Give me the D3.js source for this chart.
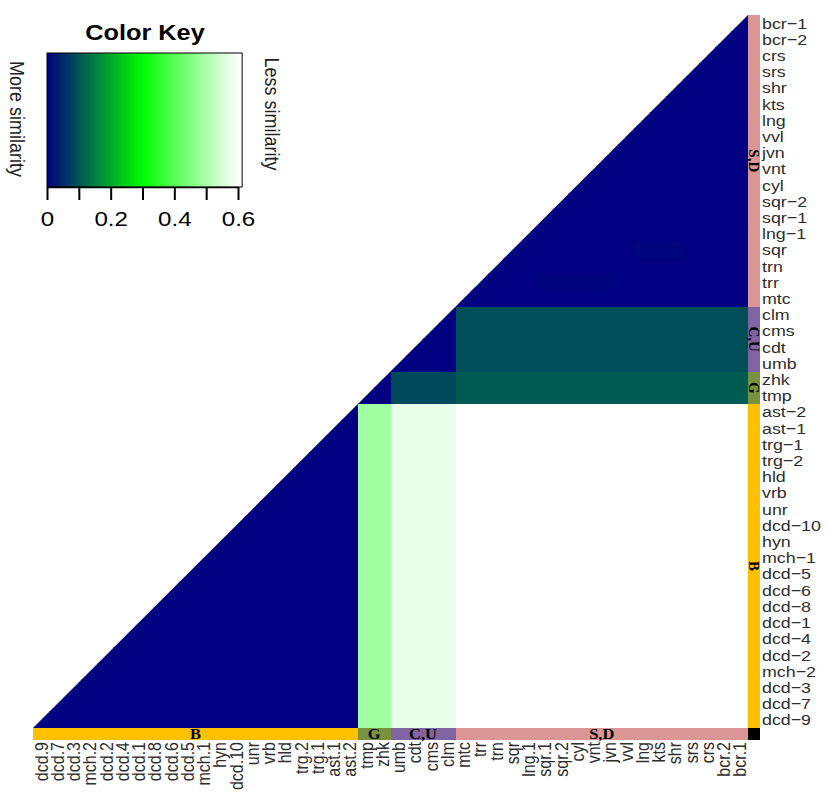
<!DOCTYPE html>
<html>
<head>
<meta charset="utf-8">
<script src="https://cdn.jsdelivr.net/npm/d3@7/dist/d3.min.js"></script>
<style>
  body { margin: 0; background: #fff; }
  svg { display: block; }
</style>
</head>
<body>
<div id="chart"></div>
<script>
// row labels, top to bottom
const rowLabels = ["bcr-1", "bcr-2", "crs", "srs", "shr", "kts", "lng", "vvl", "jvn", "vnt",
    "cyl", "sqr-2", "sqr-1", "lng-1", "sqr", "trn", "trr", "mtc",
    "clm", "cms", "cdt", "umb",
    "zhk", "tmp",
    "ast-2", "ast-1", "trg-1", "trg-2", "hld", "vrb", "unr", "dcd-10", "hyn", "mch-1",
    "dcd-5", "dcd-6", "dcd-8", "dcd-1", "dcd-4", "dcd-2", "mch-2", "dcd-3", "dcd-7", "dcd-9"];

// column labels, left to right
const colLabels = ["dcd.9", "dcd.7", "dcd.3", "mch.2", "dcd.2", "dcd.4", "dcd.1", "dcd.8", "dcd.6", "dcd.5",
    "mch.1", "hyn", "dcd.10", "unr", "vrb", "hld", "trg.2", "trg.1", "ast.1", "ast.2",
    "tmp", "zhk",
    "umb", "cdt", "cms", "clm",
    "mtc", "trr", "trn", "sqr", "lng.1", "sqr.1", "sqr.2", "cyl", "vnt", "jvn",
    "vvl", "lng", "kts", "shr", "srs", "crs", "bcr.2", "bcr.1"];

const groupNames = ["S,D", "C,U", "G", "B"];
const groupSizes = [18, 4, 2, 20];
const groupColors = ["#d99694", "#8064a2", "#77933c", "#ffc000"];

// distance between groups (row group x column group)
const blockValues = [
    [0.000, 0.092, 0.108, 0.600],
    [0.092, 0.000, 0.085, 0.575],
    [0.108, 0.085, 0.000, 0.488],
    [0.600, 0.575, 0.488, 0.000]
];

// faint differences inside the S,D block
const faintCells = [
    { row: "sqr", cols: ["lng", "kts", "shr"], value: 0.005 },
    { row: "trr", cols: ["sqr.1", "sqr.2", "cyl", "vnt", "jvn"], value: 0.004 }
];

const keyTicks = [0, 0.1, 0.2, 0.3, 0.4, 0.5, 0.6];
const keyTickLabels = ["0", "", "0.2", "", "0.4", "", "0.6"];
const keyMax = 0.613;

const W = 828, H = 799;
const sx = 1.15; // picture is a little wider than tall
const heat = { left: 33, top: 15, right: 748, bottom: 728 };
const barSize = 12;

const svg = d3.select("#chart").append("svg")
    .attr("width", W)
    .attr("height", H);

const color = d3.scaleLinear()
    .domain([0, 0.3, 0.6])
    .range(["#000080", "#00ff00", "#ffffff"])
    .clamp(true);

const x = d3.scaleBand().domain(colLabels).range([heat.left, heat.right]);
const y = d3.scaleBand().domain(rowLabels).range([heat.top, heat.bottom]);

// group index for each row
const rowGroup = [];
groupSizes.forEach((n, g) => { for (let k = 0; k < n; k++) rowGroup.push(g); });
const colGroup = colLabels.map((_, j) => rowGroup[rowLabels.length - 1 - j]);

const cells = [];
rowLabels.forEach((r, i) => {
    colLabels.forEach((c, j) => {
        cells.push({ row: r, col: c, value: blockValues[rowGroup[i]][colGroup[j]] });
    });
});
faintCells.forEach(f => {
    f.cols.forEach(c => {
        const cell = cells.find(d => d.row === f.row && d.col === c);
        if (cell) cell.value = f.value;
    });
});

// lower-right triangle only
const [x0, x1] = x.range();
const [y0, y1] = y.range();
svg.append("defs").append("clipPath")
    .attr("id", "tri")
    .append("polygon")
    .attr("points", `${x0},${y1} ${x1},${y0} ${x1},${y1}`);

svg.append("g")
    .attr("clip-path", "url(#tri)")
    .attr("shape-rendering", "crispEdges")
    .selectAll("rect")
    .data(cells)
    .join("rect")
    .attr("x", d => x(d.col))
    .attr("y", d => y(d.row))
    .attr("width", x.bandwidth() + 0.6)
    .attr("height", y.bandwidth() + 0.6)
    .attr("fill", d => color(d.value));

// side colour bars
svg.append("g")
    .attr("shape-rendering", "crispEdges")
    .selectAll("rect")
    .data(rowLabels)
    .join("rect")
    .attr("x", x1)
    .attr("y", d => y(d))
    .attr("width", barSize)
    .attr("height", y.bandwidth() + 0.6)
    .attr("fill", (d, i) => groupColors[rowGroup[i]]);

svg.append("g")
    .attr("shape-rendering", "crispEdges")
    .selectAll("rect")
    .data(colLabels)
    .join("rect")
    .attr("x", d => x(d))
    .attr("y", y1)
    .attr("width", x.bandwidth() + 0.6)
    .attr("height", barSize)
    .attr("fill", (d, j) => groupColors[colGroup[j]]);

svg.append("rect")
    .attr("x", x1)
    .attr("y", y1)
    .attr("width", barSize)
    .attr("height", barSize)
    .attr("shape-rendering", "crispEdges")
    .attr("fill", "#000");

// group names on the bars
const spans = [];
let start = 0;
groupSizes.forEach((n, g) => { spans.push({ g, start, end: start + n }); start += n; });

svg.append("g")
    .selectAll("text")
    .data(spans)
    .join("text")
    .attr("transform", d => {
        const cy = (y(rowLabels[d.start]) + y(rowLabels[d.end - 1]) + y.bandwidth()) / 2;
        return `translate(${x1 + barSize / 2},${cy}) rotate(90)`;
    })
    .attr("text-anchor", "middle")
    .attr("dy", "0.33em")
    .style("font", "bold 15px 'Liberation Serif', serif")
    .text(d => groupNames[d.g]);

svg.append("g")
    .selectAll("text")
    .data(spans)
    .join("text")
    .attr("transform", d => {
        const n = colLabels.length;
        const a = x(colLabels[n - d.end]);
        const b = x(colLabels[n - 1 - d.start]) + x.bandwidth();
        return `translate(${(a + b) / 2},${y1 + barSize / 2}) scale(1.1,1)`;
    })
    .attr("text-anchor", "middle")
    .attr("dy", "0.33em")
    .style("font", "bold 15px 'Liberation Serif', serif")
    .text(d => groupNames[d.g]);

// row and column labels
svg.append("g")
    .selectAll("text")
    .data(rowLabels)
    .join("text")
    .attr("transform", d => `translate(${x1 + barSize + 2},${y(d) + y.bandwidth() / 2}) scale(${sx},1)`)
    .attr("dy", "0.35em")
    .attr("fill", "#2e2e2e")
    .style("font", "15.5px 'Liberation Sans', Arial, sans-serif")
    .text(d => d.replace("-", "\u2212"));

svg.append("g")
    .selectAll("text")
    .data(colLabels)
    .join("text")
    .attr("transform", d => `translate(${x(d) + x.bandwidth() / 2},${y1 + barSize + 2}) scale(${sx},1) rotate(-90)`)
    .attr("text-anchor", "end")
    .attr("dy", "0.35em")
    .attr("fill", "#2e2e2e")
    .style("font", "16px 'Liberation Sans', Arial, sans-serif")
    .text(d => d);

// colour key
const key = { left: 47, top: 53, bottom: 187 };
const kx = d3.scaleLinear().domain([0, 0.6]).range([key.left, 238]);

const grad = svg.select("defs").append("linearGradient")
    .attr("id", "keygrad")
    .attr("x1", "0%").attr("x2", "100%");
grad.selectAll("stop")
    .data(d3.range(0, 1.0001, 0.05))
    .join("stop")
    .attr("offset", d => `${d * 100}%`)
    .attr("stop-color", d => color(d * keyMax));

svg.append("rect")
    .attr("x", kx(0))
    .attr("y", key.top)
    .attr("width", kx(keyMax) - kx(0))
    .attr("height", key.bottom - key.top)
    .attr("fill", "url(#keygrad)")
    .attr("stroke", "#000")
    .attr("stroke-width", 1);

const keyAxis = svg.append("g")
    .attr("transform", `translate(0,${key.bottom})`)
    .call(d3.axisBottom(kx)
        .tickValues(keyTicks)
        .tickSize(13)
        .tickSizeOuter(0)
        .tickFormat((d, i) => keyTickLabels[i]));
keyAxis.select(".domain").attr("stroke-width", 1.5);
keyAxis.selectAll(".tick line").attr("stroke-width", 2);
keyAxis.selectAll(".tick text")
    .attr("y", 24)
    .attr("transform", `scale(${sx},1)`)
    .attr("fill", "#000")
    .style("font-size", "21px")
    .style("font-family", "'Liberation Sans', Arial, sans-serif");

svg.append("text")
    .attr("transform", `translate(145,40) scale(${sx},1)`)
    .attr("text-anchor", "middle")
    .style("font", "bold 22px 'Liberation Sans', Arial, sans-serif")
    .text("Color Key");

svg.append("text")
    .attr("transform", `translate(17,119) scale(${sx},1) rotate(90)`)
    .attr("text-anchor", "middle")
    .attr("dy", "0.35em")
    .style("font", "18px 'Liberation Sans', Arial, sans-serif")
    .attr("fill", "#222")
    .text("More similarity");

svg.append("text")
    .attr("transform", `translate(272,114) scale(${sx},1) rotate(90)`)
    .attr("text-anchor", "middle")
    .attr("dy", "0.35em")
    .style("font", "18px 'Liberation Sans', Arial, sans-serif")
    .attr("fill", "#222")
    .text("Less similarity");
</script>
</body>
</html>
